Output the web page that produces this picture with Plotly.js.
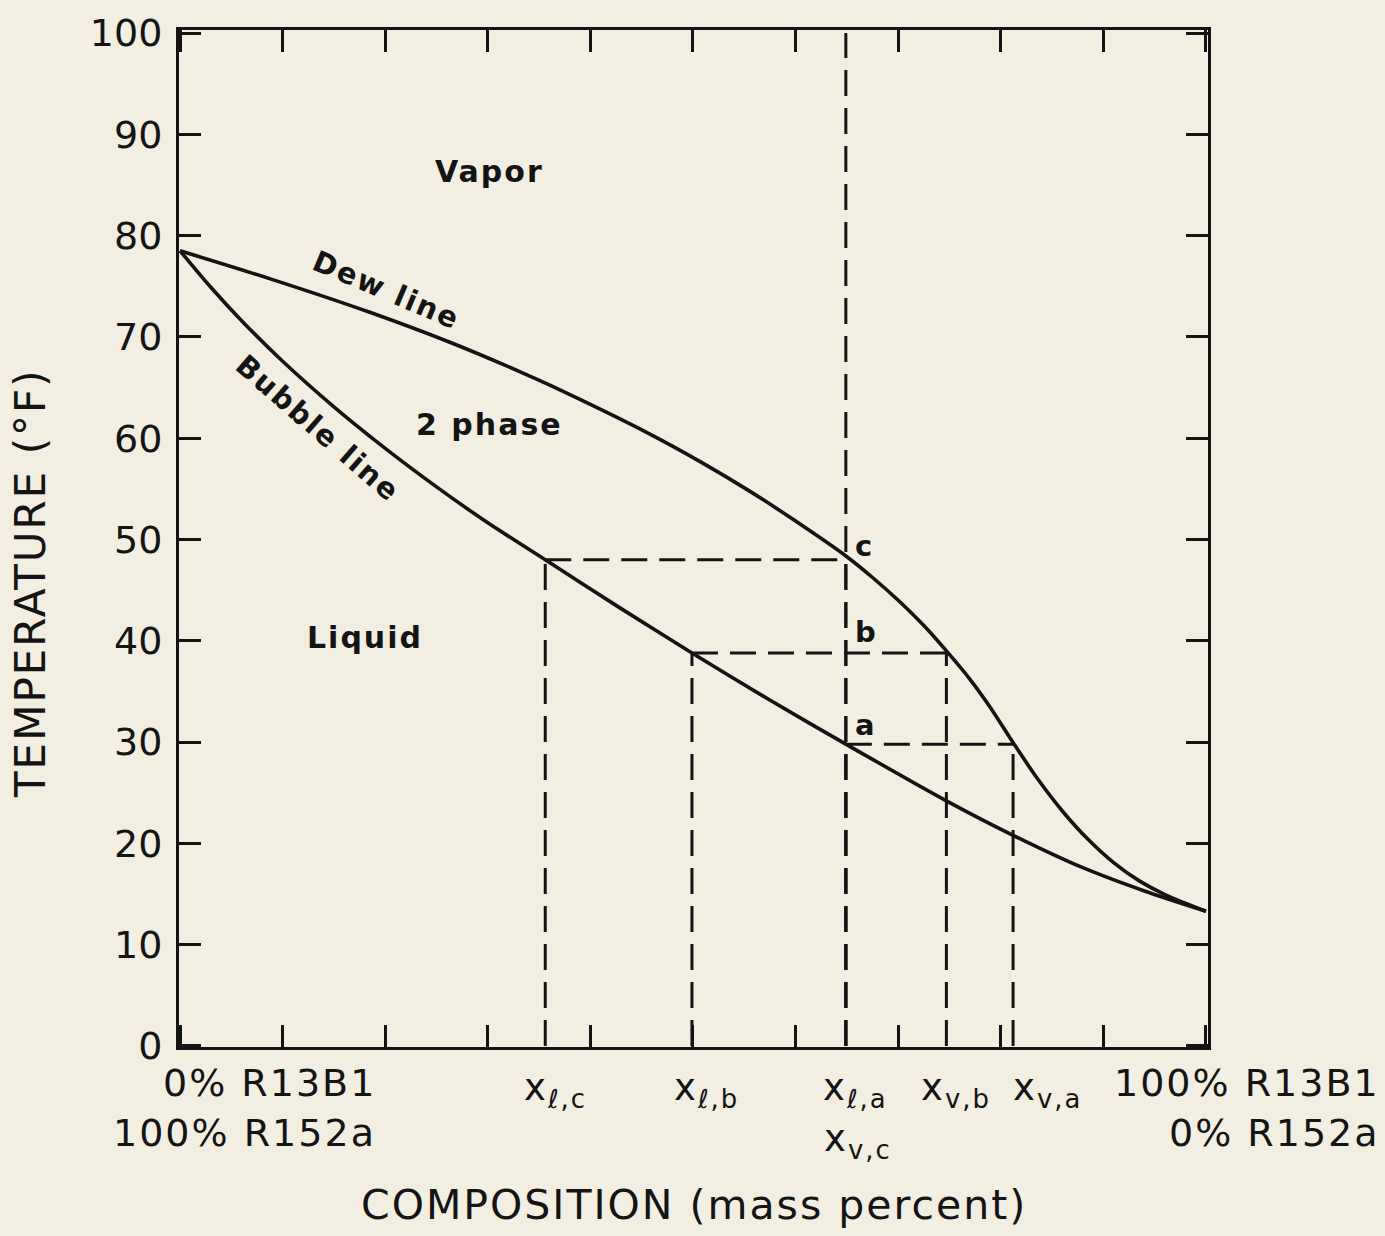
<!DOCTYPE html>
<html>
<head>
<meta charset="utf-8">
<script src="https://cdn.plot.ly/plotly-3.0.1.min.js"></script>
<style>
  html, body { margin: 0; padding: 0; background: #f2eee2; }
  #chart { width: 1385px; height: 1236px; }
  text.annotation-text { letter-spacing: 2px; }
</style>
</head>
<body>
<div id="chart"></div>
<script>
// Dew line (saturated vapor) — composition (mass % R13B1) vs temperature (°F)
const dewX = [0, 8.8, 18.5, 26.3, 33.1, 36.1, 45.8, 50.7, 55.6, 60, 65, 67.5, 70, 72.5, 74.7, 77, 79, 81.3, 83.5, 86, 88.5, 91, 93.5, 96, 100];
const dewT = [78.5, 75.73, 72.43, 69.47, 66.58, 65.21, 60.41, 57.69, 54.73, 51.82, 48.3, 46.25, 44.0, 41.5, 39.0, 36.2, 33.4, 29.8, 26.5, 23.2, 20.4, 18.1, 16.3, 14.95, 13.3];

// Bubble line (saturated liquid)
const bubbleX = [0, 3, 6, 10, 15, 20, 25, 30, 35.6, 42.8, 49.9, 57.4, 64.9, 74.7, 81.2, 88, 94, 100];
const bubbleT = [78.5, 74.9, 71.6, 67.6, 63.1, 59.0, 55.2, 51.65, 48.0, 43.3, 38.8, 34.2, 29.8, 24.2, 20.8, 17.6, 15.3, 13.3];

// Overall mixture composition (vertical line through the whole chart)
const mixtureX = 64.9;

// Tie lines a, b, c: temperature, liquid composition, vapor composition
const tieNames = ['a', 'b', 'c'];
const tieT  = [29.8, 38.8, 48.0];
const tieXl = [64.9, 49.9, 35.6];
const tieXv = [81.2, 74.7, 64.9];

// Tick values
const tickVals = [0, 10, 20, 30, 40, 50, 60, 70, 80, 90, 100];

const ink = '#141414';
const bg = '#f2eee2';

// Build dashed tie-line segments from the arrays
const tx = [], ty = [];
for (let i = 0; i < tieNames.length; i++) {
  tx.push(tieXl[i], tieXv[i], null);
  ty.push(tieT[i], tieT[i], null);
  tx.push(tieXl[i], tieXl[i], null);
  ty.push(0, tieT[i], null);
  tx.push(tieXv[i], tieXv[i], null);
  ty.push(0, tieT[i], null);
}

const dash = '26px,12px';
const traces = [
  { x: tx, y: ty, mode: 'lines', line: { color: ink, width: 3, dash: dash }, hoverinfo: 'skip', showlegend: false },
  { x: [mixtureX, mixtureX], y: [0, 100], mode: 'lines', line: { color: ink, width: 3, dash: dash }, hoverinfo: 'skip', showlegend: false },
  { x: dewX, y: dewT, mode: 'lines', name: 'Dew line', line: { color: ink, width: 3.6, shape: 'spline', smoothing: 0.8 }, showlegend: false },
  { x: bubbleX, y: bubbleT, mode: 'lines', name: 'Bubble line', line: { color: ink, width: 3.6, shape: 'spline', smoothing: 0.8 }, showlegend: false }
];

const F = 'DejaVu Sans, Liberation Sans, Arial, sans-serif';
const lbl = (text, x, y, size, opts) => Object.assign({
  text: text, x: x, y: y, xref: 'x', yref: 'y', showarrow: false,
  font: { family: F, size: size, color: ink }, xanchor: 'center', yanchor: 'middle'
}, opts || {});

const annotations = [
  lbl('<b>Vapor</b>', 30.2, 86.3, 30),
  lbl('<b>2 phase</b>', 30.2, 61.4, 30),
  lbl('<b>Liquid</b>', 18.0, 40.3, 30),
  lbl('<b>Dew line</b>', 20.1, 74.6, 29, { textangle: 23 }),
  lbl('<b>Bubble line</b>', 13.4, 61.0, 29, { textangle: 41 }),
  lbl('<b>c</b>', 65.6, 49.4, 29, { xanchor: 'left' }),
  lbl('<b>b</b>', 65.6, 40.9, 29, { xanchor: 'left' }),
  lbl('<b>a</b>', 65.6, 31.7, 29, { xanchor: 'left' }),
  // composition end labels under the axis
  lbl('0% R13B1', 0.1934, -0.0354, 38, { xref: 'paper', yref: 'paper', xanchor: 'right' }),
  lbl('100% R152a', 0.1934, -0.0846, 38, { xref: 'paper', yref: 'paper', xanchor: 'right' }),
  lbl('100% R13B1', 1.1690, -0.0354, 38, { xref: 'paper', yref: 'paper', xanchor: 'right' }),
  lbl('0% R152a', 1.1690, -0.0846, 38, { xref: 'paper', yref: 'paper', xanchor: 'right' }),
  // phase compositions under the dashed lines
  lbl('x<sub>ℓ,c</sub>', tieXl[2] + 1.0, -0.0423, 37, { yref: 'paper' }),
  lbl('x<sub>ℓ,b</sub>', tieXl[1] + 1.4, -0.0423, 37, { yref: 'paper' }),
  lbl('x<sub>ℓ,a</sub>', tieXl[0] + 0.9, -0.0423, 37, { yref: 'paper' }),
  lbl('x<sub>v,c</sub>', tieXv[2] + 1.2, -0.0925, 37, { yref: 'paper' }),
  lbl('x<sub>v,b</sub>', tieXv[1] + 0.9, -0.0423, 37, { yref: 'paper' }),
  lbl('x<sub>v,a</sub>', tieXv[0] + 3.4, -0.0423, 37, { yref: 'paper' }),
  // axis titles
  { text: 'COMPOSITION (mass percent)', xref: 'paper', yref: 'paper', x: 0.5, y: -0.155, showarrow: false,
    font: { family: F, size: 41, color: ink }, xanchor: 'center', yanchor: 'middle' },
  { text: 'TEMPERATURE (°F)', xref: 'paper', yref: 'paper', x: -0.145, y: 0.456, showarrow: false,
    textangle: -90, font: { family: F, size: 42, color: ink }, xanchor: 'center', yanchor: 'middle' }
];

const axisCommon = {
  showline: true, linecolor: ink, linewidth: 3, mirror: 'ticks',
  ticks: 'inside', ticklen: 22, tickwidth: 3, tickcolor: ink,
  showgrid: false, zeroline: false
};

const layout = {
  width: 1385, height: 1236,
  margin: { l: 179, r: 177, t: 30, b: 189 },
  paper_bgcolor: bg, plot_bgcolor: bg,
  showlegend: false,
  xaxis: Object.assign({}, axisCommon, {
    range: [-0.1, 100.2], tickmode: 'array', tickvals: tickVals, showticklabels: false
  }),
  yaxis: Object.assign({}, axisCommon, {
    range: [-0.1, 100.3], tickmode: 'array', tickvals: tickVals, ticktext: tickVals.map(String),
    ticklabelstandoff: 6,
    tickfont: { family: F, size: 38, color: ink }
  }),
  annotations: annotations
};

Plotly.newPlot('chart', traces, layout, { displayModeBar: false, staticPlot: true });
</script>
</body>
</html>
